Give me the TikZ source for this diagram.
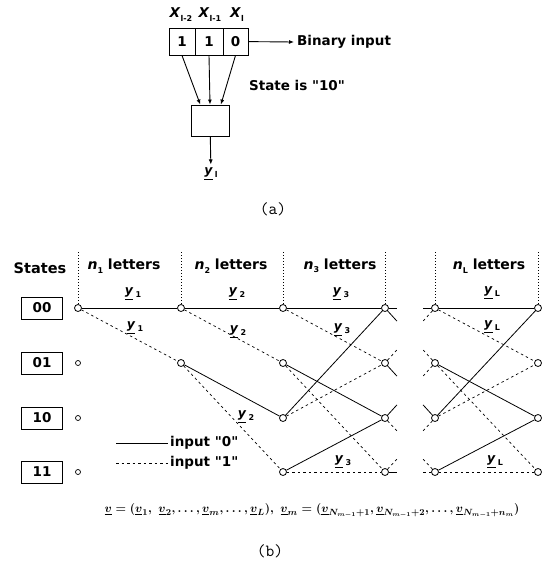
\documentclass[tikz,border=0pt]{standalone}
\usepackage{fontspec}
\usepackage{amsmath,amssymb,bm}
\usepackage{xcolor}
\setsansfont{DejaVu Sans}
\usetikzlibrary{calc,arrows.meta}

\newcommand{\vy}[1]{\underline{\textit{y}}\,\raisebox{-0.35ex}{\fontsize{8}{9}\selectfont #1}}
\newcommand{\xreg}[1]{\textit{X}\raisebox{-0.55ex}{\fontsize{8}{9}\selectfont #1}}
\newcommand{\nlet}[1]{\textit{n}\raisebox{-0.45ex}{\fontsize{8}{9}\selectfont #1}}
\newcommand{\qq}[1]{\textquotedbl#1\textquotedbl}
\newcommand{\uv}{\underline{\bm{v}}}
\newcommand{\vecdef}{{\boldmath$\uv = (\uv_1,\ \uv_2,\dots,\uv_m,\dots,\uv_L),\ \uv_m = (\uv_{N_{m-1}+1},\uv_{N_{m-1}+2},\dots,\uv_{N_{m-1}+n_m})$}}

\begin{document}
\begin{tikzpicture}[x=1pt,y=-1pt,
  every node/.style={font=\sffamily\bfseries\fontsize{13.5}{15}\selectfont},
  dot/.style={circle,draw,fill=white,inner sep=0pt,minimum size=7pt,line width=0.8pt},
  smalldot/.style={circle,draw,fill=white,inner sep=0pt,minimum size=5pt,line width=0.7pt},
  cell/.style={draw,line width=0.9pt,minimum height=27pt,inner sep=0pt},
  statebox/.style={draw,line width=0.9pt,minimum width=41pt,minimum height=22pt,inner sep=0pt},
  hdr/.style={font=\sffamily\bfseries\fontsize{14}{16}\selectfont},
  vlab/.style={font=\sffamily\bfseries\fontsize{12.5}{14}\selectfont},
  zero/.style={line width=0.8pt},
  one/.style={line width=0.7pt,dash pattern=on 2.5pt off 3pt},
  tick/.style={line width=0.8pt,dash pattern=on 1pt off 2pt},
  tip/.style={-{Latex[length=5pt,width=4pt]},line width=0.9pt}]
  \useasboundingbox (0,0) rectangle (549,566);

  % (a) shift register
  \node[cell,minimum width=26pt] (r1) at (182,41.5) {1};
  \node[cell,minimum width=28pt] (r2) at (209,41.5) {1};
  \node[cell,minimum width=25pt] (r3) at (235.5,41.5) {0};
  \node (x1) at (181,15) {\xreg{l-2}};
  \node (x2) at (210,15) {\xreg{l-1}};
  \node (x3) at (237,15) {\xreg{l}};

  \node[anchor=west,inner sep=3pt] (bin) at (294,42) {Binary input};
  \draw[tip] (r3) -- (bin.west);
  \node (stis) at (297,85) {State is \qq{10}};

  \node[draw,line width=0.9pt,minimum width=38pt,minimum height=31pt,inner sep=0pt] (comb) at (210,120.5) {};
  \draw[tip] (r1.south) -- ($(comb.north west)!0.25!(comb.north east)$);
  \draw[tip] (r2.south) -- (comb.north);
  \draw[tip] (r3.south) -- ($(comb.north west)!0.78!(comb.north east)$);
  \node[vlab] (yl) at (211,174) {\vy{l}};
  \draw[tip] (comb) -- (yl);

  \node[font=\ttfamily\fontsize{17}{19}\selectfont] (capa) at (273,209) {(a)};

  % (b) trellis
  \node[font=\sffamily\bfseries\fontsize{14.5}{16}\selectfont] (states) at (40,268) {States};
  \foreach \row/\y/\t in {0/308/00,1/363/01,2/418/10,3/472/11}
    \node[statebox] (st\row) at (42,\y) {\t};

  \node[dot] (n00) at (78,308) {};
  \foreach \row/\y in {1/363,2/418,3/472}
    \node[smalldot] (n0\row) at (78,\y) {};
  \node[dot] (n10) at (181,308) {};
  \node[dot] (n11) at (181,363) {};
  \foreach \col/\x in {2/283,3/385,4/435,5/538}
    \foreach \row/\y in {0/308,1/363,2/418,3/472}
      \node[dot] (n\col\row) at (\x,\y) {};

  \foreach \col/\x in {0/78,1/181,2/283,3/385,4/435,5/538} {
    \coordinate (t\col) at (\x,252);
    \draw[tick] (t\col) -- (n\col0);
  }

  \node[hdr] (h1) at (124,266) {\nlet{1} letters};
  \node[hdr] (h2) at (231,266) {\nlet{2} letters};
  \node[hdr] (h3) at (340,266) {\nlet{3} letters};
  \node[hdr] (hL) at (489,266) {\nlet{L} letters};

  \draw[zero] (n00) -- (n10);
  \draw[one] (n00) -- (n11);
  \draw[zero] (n10) -- (n20);
  \draw[one] (n10) -- (n21);
  \draw[zero] (n11) -- (n22);
  \draw[one] (n11) -- (n23);
  \foreach \a/\b in {2/3,4/5} {
    \draw[zero] (n\a0) -- (n\b0);
    \draw[one] (n\a0) -- (n\b1);
    \draw[zero] (n\a1) -- (n\b2);
    \draw[one] (n\a1) -- (n\b3);
    \draw[zero] (n\a2) -- (n\b0);
    \draw[one] (n\a2) -- (n\b1);
    \draw[zero] (n\a3) -- (n\b2);
    \draw[one] (n\a3) -- (n\b3);
  }
  % broken stage between n_3 and n_L
  \foreach \a/\b/\p/\q in {0/0/zero/zero,0/1/zero/one,1/0/one/one,1/2/zero/zero,
                           2/1/zero/one,2/3/one/one,3/2/one/one,3/3/zero/one} {
    \draw[\p] (n3\a) -- ($(n3\a)!0.24!(n4\b)$);
    \draw[\q] (n4\b) -- ($(n4\b)!0.24!(n3\a)$);
  }

  \node[vlab] at (133,294) {\vy{1}};
  \node[vlab] at (135,328) {\vy{1}};
  \node[vlab] at (237,294) {\vy{2}};
  \node[vlab] at (238,332) {\vy{2}};
  \node[vlab] at (246,417) {\vy{2}};
  \node[vlab] at (341,294) {\vy{3}};
  \node[vlab] at (342,330) {\vy{3}};
  \node[vlab] at (343,462) {\vy{3}};
  \node[vlab] at (492,293) {\vy{L}};
  \node[vlab] at (492,327) {\vy{L}};
  \node[vlab] at (495,462) {\vy{L}};

  % legend
  \coordinate (k0a) at (116,443);
  \node[anchor=west,inner sep=2pt] (k0) at (168,443) {input \qq{0}};
  \draw[zero] (k0a) -- (k0.west);
  \coordinate (k1a) at (116,463);
  \node[anchor=west,inner sep=2pt] (k1) at (168,463) {input \qq{1}};
  \draw[one] (k1a) -- (k1.west);

  \node[font=\fontsize{12.7}{14}\selectfont] (form) at (312,511) {\vecdef};

  \node[font=\ttfamily\fontsize{17}{19}\selectfont] (capb) at (270,551) {(b)};
\end{tikzpicture}
\end{document}
